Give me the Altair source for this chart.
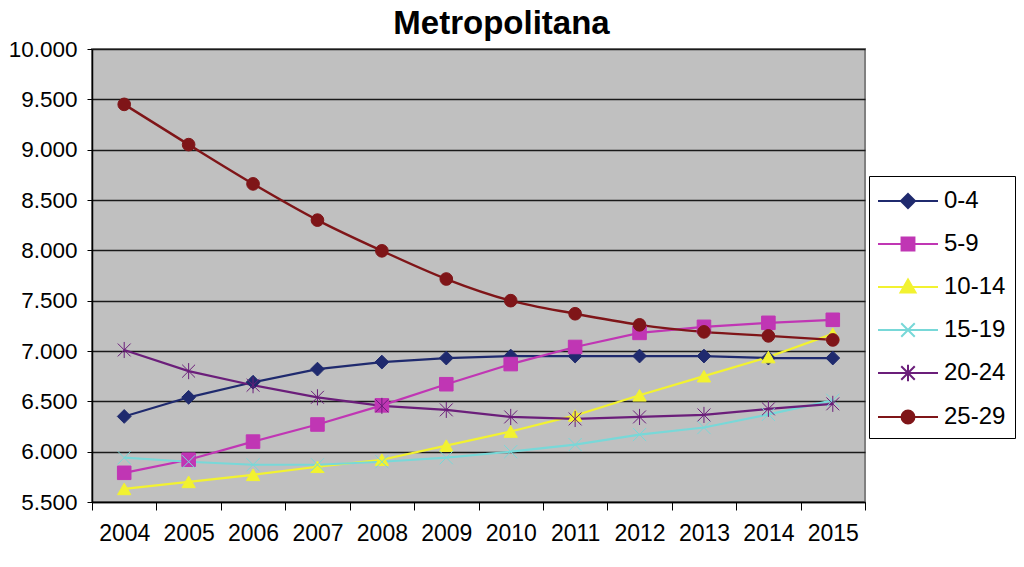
import altair as alt
import pandas as pd

years = [2004, 2005, 2006, 2007, 2008, 2009, 2010, 2011, 2012, 2013, 2014, 2015]
series_names = ["0-4", "5-9", "10-14", "15-19", "20-24", "25-29"]
s_0_4 = [6350, 6540, 6690, 6820, 6890, 6930, 6950, 6950, 6950, 6950, 6930, 6930]
s_5_9 = [5790, 5920, 6100, 6270, 6460, 6670, 6870, 7040, 7180, 7240, 7280, 7310]
s_10_14 = [5630, 5700, 5770, 5850, 5920, 6060, 6200, 6360, 6560, 6750, 6940, 7170]
s_15_19 = [5940, 5900, 5870, 5870, 5900, 5940, 6000, 6070, 6170, 6240, 6370, 6510]
s_20_24 = [7010, 6800, 6660, 6540, 6455, 6415, 6345, 6325, 6345, 6365, 6425, 6475]
s_25_29 = [9450, 9050, 8660, 8300, 7995, 7715, 7500, 7370, 7260, 7190, 7150, 7110]

colors = ["#1F2A6E", "#C036B4", "#F2F230", "#78D8D8", "#6B1E7A", "#7F1518"]
point_shapes = [
    "diamond",
    "square",
    "triangle-up",
    "M-1,-1L1,1M-1,1L1,-1",
    "M-1,-1L1,1M-1,1L1,-1M0,-1.25L0,1.25",
    "circle",
]
legend_shapes = [
    "M-2,0L2,0M0,-0.47L0.47,0L0,0.47L-0.47,0Z",
    "M-2,0L2,0M-0.43,-0.43L0.43,-0.43L0.43,0.43L-0.43,0.43Z",
    "M-2,0L2,0M0,-0.5L0.5,0.37L-0.5,0.37Z",
    "M-2,0L2,0M-0.45,-0.45L0.45,0.45M-0.45,0.45L0.45,-0.45",
    "M-2,0L2,0M-0.45,-0.45L0.45,0.45M-0.45,0.45L0.45,-0.45M0,-0.55L0,0.55",
    "M-2,0L2,0M0.43,0A0.43,0.43,0,1,1,-0.43,0A0.43,0.43,0,1,1,0.43,0Z",
]

all_vals = [s_0_4, s_5_9, s_10_14, s_15_19, s_20_24, s_25_29]
rows = []
for name, vals in zip(series_names, all_vals):
    for y, v in zip(years, vals):
        rows.append({"year": y, "value": v, "series": name})
df = pd.DataFrame(rows)
df_leg = pd.DataFrame({"series": series_names})

FONT = "Liberation Sans"

x_enc = alt.X(
    "year:O",
    title=None,
    scale=alt.Scale(paddingInner=0, paddingOuter=0),
    axis=alt.Axis(
        labelAngle=0,
        labelFontSize=23,
        labelFont=FONT,
        labelColor="black",
        labelPadding=12,
        tickBand="extent",
        tickSize=8,
        tickColor="black",
        domainColor="black",
        domainWidth=1.5,
        grid=False,
    ),
)
y_enc = alt.Y(
    "value:Q",
    title=None,
    scale=alt.Scale(domain=[5500, 10000], nice=False, zero=False),
    axis=alt.Axis(
        values=list(range(5500, 10001, 500)),
        labelExpr="replace(format(datum.value, ',d'), ',', '.')",
        labelFontSize=22.5,
        labelFont=FONT,
        labelColor="black",
        labelPadding=10,
        tickSize=5,
        tickColor="black",
        domainColor="black",
        domainWidth=1.5,
        grid=True,
        gridColor="#1a1a1a",
        gridWidth=1.3,
    ),
)

col_scale = alt.Scale(domain=series_names, range=colors)

base = alt.Chart(df)

lines_straight = base.transform_filter(alt.datum.series != "25-29").mark_line(strokeWidth=2.2).encode(
    x=x_enc, y=y_enc,
    color=alt.Color("series:N", scale=col_scale, legend=None),
    detail="series:N",
)
lines_smooth = base.transform_filter(alt.datum.series == "25-29").mark_line(
    strokeWidth=2.4, interpolate="monotone"
).encode(
    x=x_enc, y=y_enc,
    color=alt.Color("series:N", scale=col_scale, legend=None),
)
points = base.mark_point(filled=True, opacity=1).encode(
    x=x_enc, y=y_enc,
    fill=alt.Fill("series:N", scale=col_scale, legend=None),
    stroke=alt.Stroke("series:N", scale=col_scale, legend=None),
    shape=alt.Shape("series:N", scale=alt.Scale(domain=series_names, range=point_shapes), legend=None),
    size=alt.Size("series:N", scale=alt.Scale(domain=series_names, range=[190, 160, 200, 170, 200, 180]), legend=None),
    strokeWidth=alt.StrokeWidth("series:N", scale=alt.Scale(domain=series_names, range=[1, 1, 1, 2.5, 2, 1]), legend=None),
)

leg = alt.Legend(
    title=None,
    orient="none",
    legendX=777,
    legendY=127,
    symbolSize=900,
    symbolStrokeWidth=2,
    symbolOffset=14,
    labelOffset=20,
    labelFontSize=24,
    labelFont=FONT,
    labelColor="black",
    padding=9,
    rowPadding=15,
    strokeColor="black",
    fillColor="white",
)
legend_layer = alt.Chart(df_leg).mark_point(filled=True, opacity=1, clip=True).encode(
    x=alt.value(0),
    y=alt.value(-3000),
    fill=alt.Fill("series:N", scale=col_scale, legend=leg, sort=series_names),
    stroke=alt.Stroke("series:N", scale=col_scale, legend=leg, sort=series_names),
    shape=alt.Shape("series:N", scale=alt.Scale(domain=series_names, range=legend_shapes), legend=leg, sort=series_names),
)

chart = alt.layer(lines_straight, lines_smooth, points, legend_layer).resolve_scale(
    color="independent", fill="independent", stroke="independent", shape="independent"
).properties(
    width=773,
    height=453,
    title=alt.TitleParams(
        "Metropolitana", fontSize=33, font=FONT, fontWeight="bold", color="black",
        anchor="middle", dx=23, dy=3, offset=0,
    ),
    autosize=alt.AutoSizeParams(type="none"),
    padding={"left": 84, "top": 41, "right": 151, "bottom": 65},
    background="white",
).configure_view(
    fill="#C0C0C0", stroke="#808080", strokeWidth=2
)

chart.save("out.html", embed_options={"renderer": "svg", "actions": False})
